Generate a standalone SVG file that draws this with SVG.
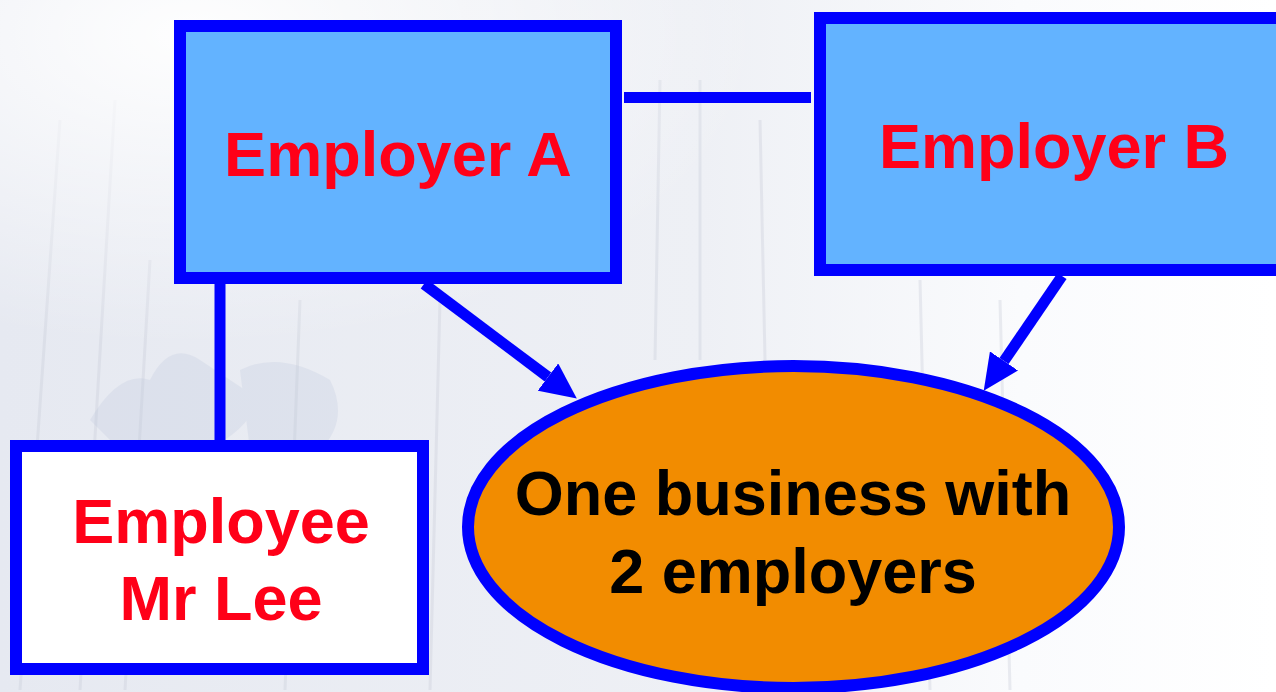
<svg xmlns="http://www.w3.org/2000/svg" width="1276" height="692" viewBox="0 0 1276 692">
  <style>
    .box { stroke: #0000ff; stroke-width: 12; }
    .employer { fill: #63b3ff; }
    .person { fill: #ffffff; }
    .biz { fill: #f28c00; stroke: #0000ff; stroke-width: 12; }
    .label { font-family: "Liberation Sans", Arial, sans-serif; font-weight: bold; font-size: 63px; text-anchor: middle; }
    .red { fill: #ff0018; }
    .dark { fill: #000000; }
    .link { stroke: #0000ff; stroke-width: 11; fill: none; }
    .arrow { stroke: #0000ff; stroke-width: 11; fill: none; marker-end: url(#head); }
    .streak { stroke: #c9cdd9; fill: none; }
  </style>
  <defs>
    <linearGradient id="wash" x1="0" y1="0" x2="1" y2="0">
      <stop offset="0" stop-color="#e6e9f1"/>
      <stop offset="0.55" stop-color="#eef0f5"/>
      <stop offset="0.8" stop-color="#fafbfd"/>
      <stop offset="1" stop-color="#ffffff"/>
    </linearGradient>
    <radialGradient id="glow" cx="0.15" cy="0.05" r="0.45">
      <stop offset="0" stop-color="#ffffff" stop-opacity="0.95"/>
      <stop offset="1" stop-color="#ffffff" stop-opacity="0"/>
    </radialGradient>
    <marker id="head" viewBox="0 0 36 34" refX="0" refY="17" markerWidth="36" markerHeight="34" markerUnits="userSpaceOnUse" orient="auto">
      <path d="M0,0 L36,17 L0,34 z" fill="#0000ff"/>
    </marker>
  </defs>

  <!-- faded building backdrop -->
  <g id="backdrop">
    <rect x="0" y="0" width="1276" height="692" fill="url(#wash)"/>
    <g class="streak" stroke-width="3" opacity="0.35">
      <path d="M60 120 L20 690"/>
      <path d="M115 100 L80 690"/>
      <path d="M150 260 L125 690"/>
      <path d="M300 300 L285 690"/>
      <path d="M440 300 L430 690"/>
      <path d="M660 80 L655 360"/>
      <path d="M700 80 L700 360"/>
      <path d="M760 120 L765 360"/>
      <path d="M920 280 L930 690"/>
      <path d="M1000 300 L1010 690"/>
    </g>
    <g fill="#bcc6dc" opacity="0.25">
      <path d="M90 420 Q120 370 150 380 Q170 340 200 360 Q230 380 260 400 Q240 440 200 450 L120 450 Z"/>
      <path d="M240 370 Q280 350 330 380 Q350 420 320 450 L250 450 Z"/>
    </g>
    <rect x="0" y="0" width="1276" height="692" fill="url(#glow)"/>
  </g>

  <!-- nodes -->
  <g id="employer-a">
    <rect class="box employer" x="180" y="26" width="436" height="252"/>
    <text class="label red" x="398" y="176">Employer A</text>
  </g>

  <g id="employer-b">
    <rect class="box employer" x="820" y="18" width="480" height="252"/>
    <text class="label red" x="1054" y="168">Employer B</text>
  </g>

  <g id="employee">
    <rect class="box person" x="16" y="446" width="407" height="223"/>
    <text class="label red" x="221" y="543">Employee</text>
    <text class="label red" x="221" y="620">Mr Lee</text>
  </g>

  <g id="business">
    <ellipse class="biz" cx="793.5" cy="527" rx="325.5" ry="161"/>
    <text class="label dark" x="793" y="515">One business with</text>
    <text class="label dark" x="793" y="593">2 employers</text>
  </g>

  <!-- connectors -->
  <g id="connectors">
    <line class="link" x1="624" y1="97.5" x2="811" y2="97.5"/>
    <line class="link" x1="220" y1="284" x2="220" y2="440" stroke-width="12"/>
    <line class="arrow" x1="424" y1="284" x2="548" y2="377"/>
    <line class="arrow" x1="1062" y1="276" x2="1004" y2="361"/>
  </g>
</svg>
